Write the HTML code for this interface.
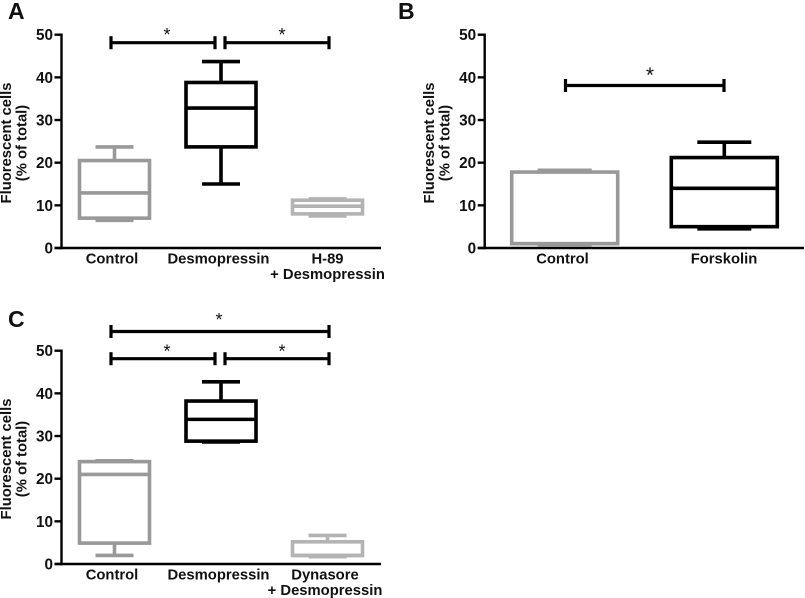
<!DOCTYPE html>
<html>
<head>
<meta charset="utf-8">
<style>
html,body{margin:0;padding:0;background:#fff;}
svg{display:block;}
text{font-family:"Liberation Sans",sans-serif;font-weight:bold;fill:#111;}
</style>
</head>
<body>
<svg id="figure" width="805" height="598" viewBox="0 0 805 598" xmlns="http://www.w3.org/2000/svg"></svg>
<script>
// Tick labels (shared)
const yTicks = [0, 10, 20, 30, 40, 50];

// Panel A
const catsA = [["Control"], ["Desmopressin"], ["H-89", "+ Desmopressin"]];
const minA = [6.5, 15, 7.5];
const q1A = [7, 23.7, 8];
const medA = [12.9, 32.8, 9.8];
const q3A = [20.5, 38.8, 11.2];
const maxA = [23.7, 43.7, 11.5];

// Panel B
const catsB = [["Control"], ["Forskolin"]];
const minB = [0.7, 4.5];
const q1B = [1, 5];
const medB = [1, 14];
const q3B = [17.8, 21.2];
const maxB = [18.2, 24.8];

// Panel C
const catsC = [["Control"], ["Desmopressin"], ["Dynasore", "+ Desmopressin"]];
const minC = [2, 28.6, 1.7];
const q1C = [4.9, 28.8, 2];
const medC = [21, 33.9, 2];
const q3C = [24, 38.2, 5.2];
const maxC = [24.2, 42.7, 6.7];

const NS = "http://www.w3.org/2000/svg";
const svg = document.getElementById("figure");

function add(tag, attrs, parent, text) {
  const el = document.createElementNS(NS, tag);
  for (const k in attrs) el.setAttribute(k, attrs[k]);
  if (text !== undefined) el.textContent = text;
  (parent || svg).appendChild(el);
  return el;
}

function line(x1, y1, x2, y2, color, w, parent) {
  return add("line", {x1: x1, y1: y1, x2: x2, y2: y2, stroke: color, "stroke-width": w}, parent);
}

function drawPanel(cfg) {
  const g = add("g", {});
  
  

  const yScale = v => cfg.y0 + (cfg.y50 - cfg.y0) * v / 50;
  const xScale = i => cfg.centers[i];
  const sw = 3.6;

  // panel letter
  const letter = add("text", {x: cfg.letterX, y: cfg.letterY, "font-size": 23}, g, cfg.letter);
  
  

  // y axis title
  const tx = cfg.axisX - 50.5;
  const tyc = cfg.y0 - 105;
  const title = add("text", {transform: "translate(" + tx + "," + tyc + ") rotate(-90)", "text-anchor": "middle", "font-size": 14.8}, g);
  
  
  add("tspan", {x: 0, y: 0}, title, "Fluorescent cells");
  add("tspan", {x: 0, y: 15.3}, title, "(% of total)");

  // axes
  const yAxis = line(cfg.axisX, cfg.y50 - 1.2, cfg.axisX, cfg.y0 + 1.2, "#000", 2.4, g);
  
  
  const xAxis = line(cfg.axisX - 7, cfg.y0, cfg.axisEnd, cfg.y0, "#000", 2.4, g);
  
  

  yTicks.forEach(t => {
    const tick = line(cfg.axisX - 7, yScale(t), cfg.axisX, yScale(t), "#000", 2.4, g);
    
    
    const lab = add("text", {x: cfg.axisX - 8.5, y: yScale(t) + 5.5, "text-anchor": "end", "font-size": 15.3}, g, String(t));
    
    
  });

  // boxes
  cfg.cats.forEach((cat, i) => {
    const b = add("g", {}, g);
    
    
    const c = xScale(i), hw = cfg.boxHalf, cap = cfg.capHalf, col = cfg.colors[i];
    line(c, yScale(cfg.q3[i]), c, yScale(cfg.max[i]), col, sw, b);
    line(c, yScale(cfg.q1[i]), c, yScale(cfg.min[i]), col, sw, b);
    line(c - cap, yScale(cfg.max[i]), c + cap, yScale(cfg.max[i]), col, sw, b);
    line(c - cap, yScale(cfg.min[i]), c + cap, yScale(cfg.min[i]), col, sw, b);
    add("rect", {x: c - hw, y: yScale(cfg.q3[i]), width: 2 * hw, height: yScale(cfg.q1[i]) - yScale(cfg.q3[i]), fill: "#fff", stroke: col, "stroke-width": sw}, b);
    line(c - hw, yScale(cfg.med[i]), c + hw, yScale(cfg.med[i]), col, sw, b);

    const lab = add("text", {"text-anchor": "middle", "font-size": 14.8}, g);
    
    
    cat.forEach((ln, k) => {
      add("tspan", {x: cfg.labelX[i][k], y: cfg.y0 + 15.5 + k * 15.7}, lab, ln);
    });
  });

  // significance brackets
  cfg.brackets.forEach(br => {
    const s = add("g", {}, g);
    
    
    const y = br[2];
    line(br[0], y, br[1], y, "#000", 3.2, s);
    line(br[0], y - 6.5, br[0], y + 6.5, "#000", 3.2, s);
    line(br[1], y - 6.5, br[1], y + 6.5, "#000", 3.2, s);
    add("text", {x: br[3], y: y + br[4], "text-anchor": "middle", "font-size": cfg.starSize, style: "font-weight:normal"}, s, "*");
  });
}

drawPanel({
  name: "panel-a", letter: "A", letterX: 8, letterY: 19,
  axisX: 61.5, axisEnd: 381, y0: 248, y50: 34.7,
  centers: [114.5, 221, 327.5], boxHalf: 35, capHalf: 19,
  colors: ["#999999", "#000000", "#b3b3b3"],
  cats: catsA, min: minA, q1: q1A, med: medA, q3: q3A, max: maxA,
  labelX: [[112], [218.5], [327.5, 327.5]],
  brackets: [[111, 215, 42.7, 167, -1.5], [225, 329, 42.7, 282, -1.5]],
  starSize: 18
});

drawPanel({
  name: "panel-b", letter: "B", letterX: 398, letterY: 19,
  axisX: 484.7, axisEnd: 804, y0: 248, y50: 34.7,
  centers: [564.7, 724.3], boxHalf: 53, capHalf: 27,
  colors: ["#999999", "#000000"],
  cats: catsB, min: minB, q1: q1B, med: medB, q3: q3B, max: maxB,
  labelX: [[562.5], [724]],
  brackets: [[565.5, 724, 85.5, 650, -3.3]],
  starSize: 21
});

drawPanel({
  name: "panel-c", letter: "C", letterX: 8, letterY: 327,
  axisX: 61.5, axisEnd: 381, y0: 564, y50: 350.7,
  centers: [114.5, 221, 327.5], boxHalf: 35, capHalf: 19,
  colors: ["#999999", "#000000", "#b3b3b3"],
  cats: catsC, min: minC, q1: q1C, med: medC, q3: q3C, max: maxC,
  labelX: [[112], [218.5], [325, 325]],
  brackets: [[111, 329, 331.5, 219, -5.7], [111, 215, 358.7, 167, -1], [225, 329, 358.7, 282, -1]],
  starSize: 18
});
</script>
</body>
</html>
